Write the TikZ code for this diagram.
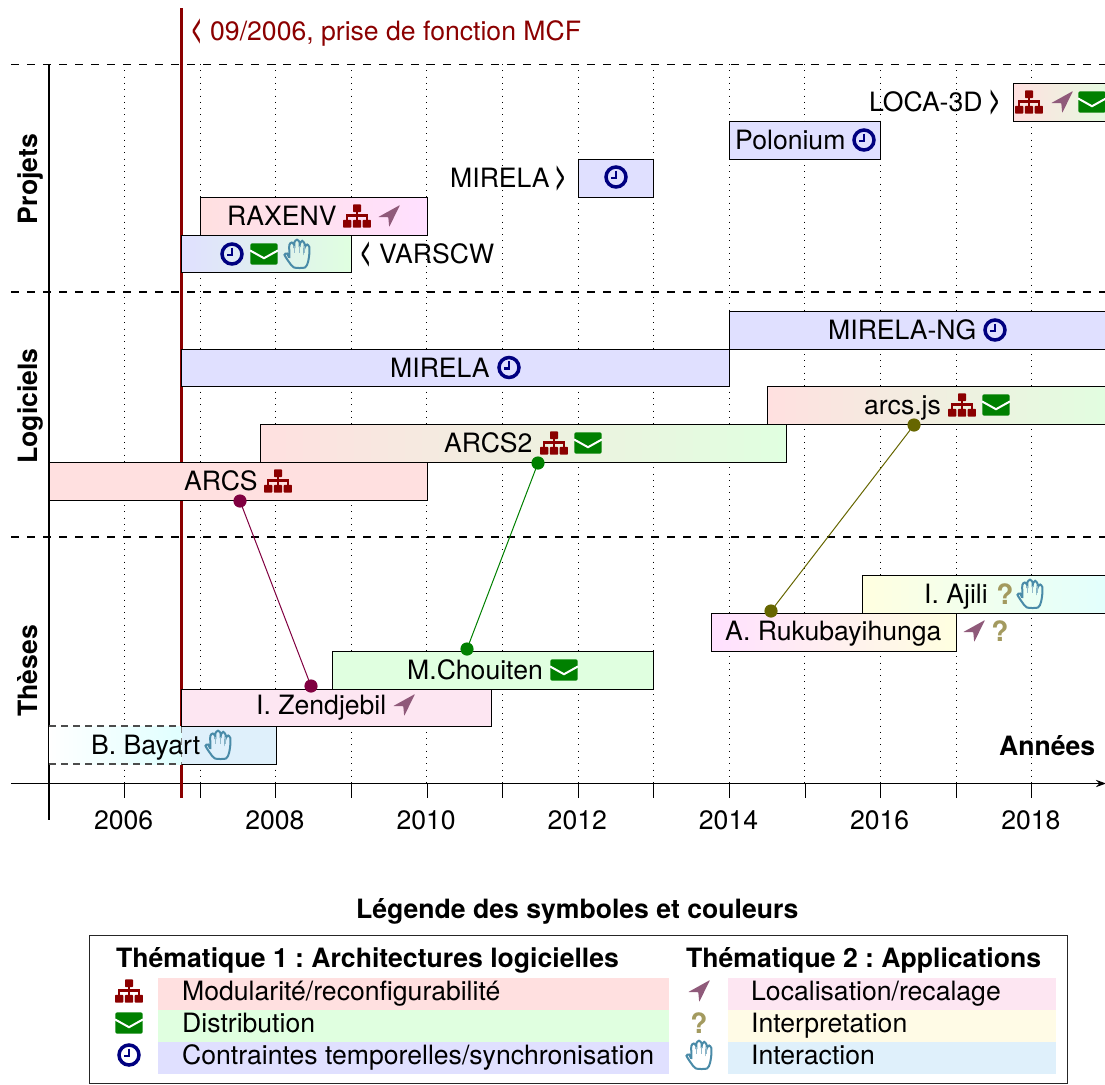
\documentclass[tikz,border=0pt]{standalone}
\usepackage{fontspec}
\setmainfont{TeX Gyre Heros}
\usetikzlibrary{arrows.meta}
\definecolor{cMod}{HTML}{FFE0E0}
\definecolor{cDis}{HTML}{E0FFE0}
\definecolor{cTmp}{HTML}{E0E0FF}
\definecolor{cLoc}{HTML}{FDE6F2}
\definecolor{cLocB}{HTML}{FFE0FF}
\definecolor{cInt}{HTML}{FFFBE6}
\definecolor{cIntB}{HTML}{FFFFE0}
\definecolor{cHan}{HTML}{DFF0FB}
\definecolor{cHanB}{HTML}{E0FFFF}
\definecolor{iMod}{HTML}{8B0000}
\definecolor{iDis}{HTML}{008000}
\definecolor{iTmp}{HTML}{000080}
\definecolor{iLoc}{HTML}{8F5A7A}
\definecolor{iInt}{HTML}{A39A5F}
\definecolor{iHan}{HTML}{4A8BA8}
\definecolor{dotA}{HTML}{800040}
\definecolor{dotB}{HTML}{008000}
\definecolor{dotC}{HTML}{666600}
\newcommand{\ltch}{\scalebox{0.72}[1.35]{\bfseries <}}
\newcommand{\gtch}{\scalebox{0.72}[1.35]{\bfseries >}}
\tikzset{
  txt/.style={anchor=base west,inner sep=0pt,outer sep=0pt,xshift=-0.4pt,font=\fontsize{13.3pt}{15pt}\selectfont\frenchspacing},
  btxt/.style={txt,font=\fontsize{13.3pt}{15pt}\selectfont\bfseries\frenchspacing},
  barbox/.style={draw=black,line width=0.5pt,inner sep=0pt,outer sep=0pt,anchor=north west,rectangle},
  lgfill/.style={inner sep=0pt,outer sep=0pt,anchor=north west,rectangle},
  dotnode/.style={circle,inner sep=0pt,outer sep=0pt,minimum size=6.6pt},
  griddot/.style={line width=0.45pt,dash pattern=on 0.45pt off 2.7pt},
  secline/.style={line width=0.8pt,black,dash pattern=on 4pt off 4pt},
  axisline/.style={line width=0.85pt,black},
  isite/.pic={
    \fill[iMod,rounded corners=0.4pt] (-4,-11.7) rectangle (4,-3.8);
    \fill[iMod] (-1.2,-4) rectangle (1.2,-1.5);
    \fill[iMod] (-11,-1.6) rectangle (11,0.6);
    \foreach \q in {-9.8,0,9.8}{
      \fill[iMod] (\q-1.2,0.5) rectangle (\q+1.2,4);
      \fill[iMod,rounded corners=0.4pt] (\q-4.1,3.8) rectangle (\q+4.1,11.7);
    }
  },
  iloc/.pic={
    \fill[iLoc,rounded corners=0.3pt] (11,-11) -- (-11,1.2) -- (-0.7,1.2) -- (0.2,11) -- cycle;
  },
  imail/.pic={
    \fill[iDis,rounded corners=1pt] (-13.7,-10.7) rectangle (13.7,10.7);
    \draw[white,line width=1pt] (-14,-3.6) -- (0,4.2) -- (14,-3.6);
  },
  iclock/.pic={
    \draw[iTmp,line width=1.75pt] (0,0) circle (10);
    \draw[iTmp,line width=1.25pt] (0,-6.5) -- (0,1.2) -- (-5.5,1.2);
  },
  ihand/.pic={
    \draw[iHan,line width=1pt] plot[smooth cycle,tension=0.45] coordinates{
      (-3,13.5) (8,13.5) (11,8) (12.3,0) (12.3,-7) (10.2,-9.5) (8,-7.5)
      (7.5,-6) (7.5,-10.5) (5.2,-13.2) (3,-10.5) (2.5,-7)
      (2.5,-12) (0,-14.3) (-2.5,-12) (-2.7,-6)
      (-2.7,-9) (-5.2,-11.5) (-7.7,-9) (-7.7,3)
      (-10,-0.5) (-12.5,0.8) (-8,8)};
    \foreach \q in {-2.6,2.5,7.5}{\draw[iHan!60,line width=0.4pt] (\q,-8) -- (\q,-1);}
  },
  iquest/.pic={
    \node[inner sep=0pt,outer sep=0pt,text=iInt,font=\fontsize{14pt}{14pt}\selectfont\bfseries] (-mark) at (0,0) {?};
  },
}
\newcommand{\barnode}[6][]{%
  \pgfmathsetmacro{\bw}{(#4-#3)*0.5}%
  \pgfmathsetmacro{\bh}{(#6-#5)*0.5}%
  \node[barbox,#1,minimum width=\bw pt,minimum height=\bh pt] (#2) at (#3,#5) {};%
}
\newcommand{\lgnode}[6]{%
  \pgfmathsetmacro{\bw}{(#4-#3)*0.5}%
  \pgfmathsetmacro{\bh}{(#6-#5)*0.5}%
  \node[lgfill,fill=#1,minimum width=\bw pt,minimum height=\bh pt] (#2) at (#3,#5) {};%
}
\begin{document}
\begin{tikzpicture}[x=0.5pt,y=-0.5pt]
\useasboundingbox (0,0) rectangle (1105,1084);
\clip (0,0) rectangle (1105,1084);
% grid
\foreach \g in {124.5,200.1,275.7,351.3,426.9,502.5,578.1,653.7,729.3,804.9,880.5,956.1,1031.7}{
  \draw[griddot] (\g,64) -- (\g,784);
  \draw[line width=0.4pt] (\g,784) -- (\g,798);
}
% section separators
\draw[secline] (11,64.5) -- (1105,64.5);
\draw[secline] (11,292) -- (1105,292);
\draw[secline] (11,537) -- (1105,537);
% axes
\coordinate (xstart) at (11,783.5);
\coordinate (xend) at (1106,783.5);
\coordinate (ystart) at (49,64);
\coordinate (yend) at (49,820);
\draw[axisline,-{Stealth[length=5pt,width=3.6pt]}] (xstart) -- (xend);
\draw[axisline] (ystart) -- (yend);
% year of appointment
\coordinate (rtop) at (181.5,8);
\coordinate (rbot) at (181.5,798);
\draw[line width=1.65pt,iMod] (rtop) -- (rbot);
\node[txt,text=iMod] (rch) at (192.5,40) {\ltch};
\node[txt,text=iMod] (rlab) at (211,40) {09/2006, prise de fonction MCF};
% section titles
\node[btxt,anchor=base,rotate=90,xshift=0pt] (tp) at (38,179) {Projets};
\node[btxt,anchor=base,rotate=90,xshift=0pt] (tl) at (38,406) {Logiciels};
\node[btxt,anchor=base,rotate=90,xshift=0pt] (tt) at (38,671) {Thèses};
% year labels
\foreach \v/\p in {2006/124.5,2008/275.7,2010/426.9,2012/578.1,2014/729.3,2016/880.5,2018/1031.7}{
  \node[txt,anchor=base,xshift=0pt] (y\v) at (\p,829) {\v};
}
\node[btxt,anchor=base east,xshift=0pt] (an) at (1096,755) {Années};
% projects
\barnode[left color=cMod,right color=cLocB]{bRax}{200.1}{427}{197}{235}
\barnode[fill=cTmp]{bMir}{578.1}{653.7}{159}{197}
\barnode[fill=cTmp]{bPol}{729.3}{880.5}{121}{159}
\barnode[left color=cMod,right color=cDis]{bLoc}{1013}{1125}{83}{121}
\barnode[left color=cTmp,right color=cDis]{bVar}{181.5}{351.5}{235}{272.5}
\node[txt] (nLoc) at (870,111) {LOCA-3D};
\node[txt] (cLocH) at (990,111) {\gtch};
\pic at (1029,102) {isite};
\pic at (1062,102) {iloc};
\pic at (1092,102) {imail};
\node[txt] (nPol) at (736,149.5) {Polonium};
\pic at (864,140) {iclock};
\node[txt] (nMir) at (451,187.5) {MIRELA};
\node[txt] (cMirH) at (556,187.5) {\gtch};
\pic at (616,177) {iclock};
\node[txt] (nRax) at (228,225.5) {RAXENV};
\pic at (357,216) {isite};
\pic at (389,216) {iloc};
\pic at (232,254) {iclock};
\pic at (264,254) {imail};
\pic at (297,254) {ihand};
\node[txt] (cVarH) at (361.5,263) {\ltch};
\node[txt] (nVar) at (380,263) {VARSCW};
% software
\barnode[fill=cTmp]{bMng}{729.3}{1125}{311}{349}
\barnode[fill=cTmp]{bMsw}{181.5}{729.3}{349}{386.5}
\barnode[left color=cMod,right color=cDis]{bArj}{767}{1125}{386.5}{424.5}
\barnode[left color=cMod,right color=cDis]{bAr2}{260.5}{786}{424.5}{462}
\barnode[fill=cMod]{bArc}{49}{427}{462}{500}
\node[txt] (nMng) at (829,339.5) {MIRELA-NG};
\pic at (995,330) {iclock};
\node[txt] (nMsw) at (391,377) {MIRELA};
\pic at (509,367.5) {iclock};
\node[txt] (nArj) at (865,414.5) {arcs.js};
\pic at (962,405) {isite};
\pic at (996,405) {imail};
\node[txt] (nAr2) at (445,452.5) {ARCS2};
\pic at (554,443) {isite};
\pic at (588,443) {imail};
\node[txt] (nArc) at (185,490.5) {ARCS};
\pic at (278,481) {isite};
% theses
\barnode[left color=cIntB,right color=cHanB]{bAji}{862}{1125}{575}{613}
\barnode[left color=cLocB,right color=cIntB]{bRuk}{711}{956.5}{613}{651}
\barnode[fill=cDis]{bCho}{332}{653.7}{651}{689}
\node[lgfill,left color=white,right color=cHanB,minimum width=66.25pt,minimum height=19pt] (bBayL) at (49,726) {};
\node[lgfill,fill=cHan,minimum width=47.25pt,minimum height=19pt] (bBayR) at (181.5,726) {};
\draw[line width=0.6pt,black!70,dash pattern=on 3.4pt off 2.6pt] (bBayL.south west) -- (bBayL.south east);
\draw[line width=0.6pt,black!70,dash pattern=on 3.4pt off 2.6pt] (bBayL.north west) -- (bBayL.north east);
\draw[line width=0.6pt,black!50,dash pattern=on 3.4pt off 2.6pt] (bBayL.north east) -- (bBayL.south east);
\draw[line width=0.5pt] (bBayR.south west) -- (bBayR.south east) -- (bBayR.north east);
\barnode[fill=cLoc]{bZen}{181.5}{491.5}{689}{726}
\node[txt] (nAji) at (925,603.5) {I. Ajili};
\pic at (1005,594) {iquest};
\pic at (1030,594) {ihand};
\node[txt] (nRuk) at (726,640) {A. Rukubayihunga};
\pic at (974,631) {iloc};
\pic at (1000,631) {iquest};
\node[txt] (nCho) at (408,679) {M.Chouiten};
\pic at (564,670) {imail};
\node[txt] (nZen) at (257,714.5) {I. Zendjebil};
\pic at (404,705) {iloc};
\node[txt] (nBay) at (92,754.5) {B. Bayart};
\pic at (218,745) {ihand};
% links
\node[dotnode,fill=dotA] (d1a) at (240,501) {};
\node[dotnode,fill=dotA] (d1b) at (311,686) {};
\node[dotnode,fill=dotB] (d2a) at (538,463) {};
\node[dotnode,fill=dotB] (d2b) at (467,649) {};
\node[dotnode,fill=dotC] (d3a) at (914,425) {};
\node[dotnode,fill=dotC] (d3b) at (771,611) {};
\draw[dotA,line width=0.5pt] (d1a) -- (d1b);
\draw[dotB,line width=0.5pt] (d2a) -- (d2b);
\draw[dotC,line width=0.5pt] (d3a) -- (d3b);
% legend
\node[btxt,anchor=base,xshift=0pt] (lgt) at (578,918) {Légende des symboles et couleurs};
\node[draw=black!85,line width=0.5pt,inner sep=0pt,outer sep=0pt,anchor=north west,minimum width=489pt,minimum height=74pt] (lgb) at (89,935.5) {};
\node[btxt] (lg1) at (117,967) {Thématique 1 : Architectures logicielles};
\node[btxt] (lg2) at (687,967) {Thématique 2 : Applications};
\lgnode{cMod}{l1}{158}{669}{978}{1010}
\lgnode{cDis}{l2}{158}{669}{1010}{1042}
\lgnode{cTmp}{l3}{158}{669}{1042}{1074}
\lgnode{cLoc}{l4}{728}{1056}{978}{1010}
\lgnode{cInt}{l5}{728}{1056}{1010}{1042}
\lgnode{cHan}{l6}{728}{1056}{1042}{1074}
\node[txt] (t1) at (183,1000) {Modularité/reconfigurabilité};
\node[txt] (t2) at (183,1032) {Distribution};
\node[txt] (t3) at (183,1064) {Contraintes temporelles/synchronisation};
\node[txt] (t4) at (752,1000) {Localisation/recalage};
\node[txt] (t5) at (752,1032) {Interpretation};
\node[txt] (t6) at (752,1064) {Interaction};
\pic at (129,991) {isite};
\pic at (129,1023) {imail};
\pic at (129,1055) {iclock};
\pic at (699,991) {iloc};
\pic at (699,1023) {iquest};
\pic at (699,1055) {ihand};
\end{tikzpicture}
\end{document}
